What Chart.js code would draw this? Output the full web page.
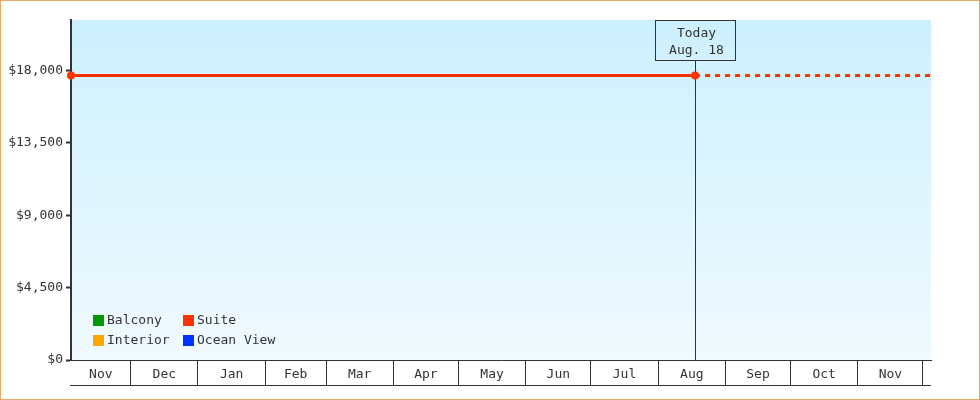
<!DOCTYPE html>
<html>
<head>
<meta charset="utf-8">
<style>
  html, body { margin: 0; padding: 0; background: #fff; }
  #wrap { width: 980px; height: 400px; position: relative; }
</style>
<script src="https://cdn.jsdelivr.net/npm/chart.js@4.4.1/dist/chart.umd.min.js"></script>
</head>
<body>
<div id="wrap"><canvas id="chart"></canvas></div>
<script>
// Days counted from Nov 1 (first month on the axis)
const xMin = 2.5;
const xMax = 398.7;
const monthLabels = ['Nov', 'Dec', 'Jan', 'Feb', 'Mar', 'Apr', 'May', 'Jun', 'Jul', 'Aug', 'Sep', 'Oct', 'Nov'];
const monthStarts = [0, 30, 61, 92, 120, 151, 181, 212, 242, 273, 304, 334, 365, 395];
const todayDay = 290;
const todayLabel = ['Today', 'Aug. 18'];

const yTicks = [0, 4500, 9000, 13500, 18000];
const yMax = 21150;

const seriesNames = ['Balcony', 'Suite', 'Interior', 'Ocean View'];
const seriesColors = ['#009900', '#ff3300', '#ffa500', '#0033ff'];
const suiteDays = [2.5, 290, 398.7];
const suitePrices = [17700, 17700, 17700];

const FONT = '"DejaVu Sans Mono", monospace';
const INK = '#333';

// month cell centres (visible part) and boundaries for the x axis
const labelTicks = monthLabels.map((m, i) => {
    const a = Math.max(monthStarts[i], xMin);
    const b = Math.min(monthStarts[i + 1], xMax);
    return { value: (a + b) / 2, label: m };
});
const boundaryTicks = monthStarts.filter(d => d > xMin && d < xMax).map(d => ({ value: d, label: '' }));
const xTickList = labelTicks.concat(boundaryTicks).sort((a, b) => a.value - b.value);

const suiteData = suiteDays.map((d, i) => ({ x: d, y: suitePrices[i] }));

const datasets = seriesNames.map((name, i) => ({
    label: name,
    data: name === 'Suite' ? suiteData : [],
    borderColor: seriesColors[i],
    backgroundColor: seriesColors[i],
    borderWidth: 3,
    pointRadius: name === 'Suite' ? suiteDays.map(d => d <= todayDay ? 4 : 0) : 0,
    pointBorderWidth: 0,
    clip: false,
    segment: {
        borderDash: ctx => ctx.p0.parsed.x >= todayDay ? [5, 5] : undefined
    }
}));

// chart area background + frame around the page
const backdrop = {
    id: 'backdrop',
    beforeDraw(chart) {
        const { ctx, chartArea: a } = chart;
        const g = ctx.createLinearGradient(0, a.top, 0, a.bottom);
        g.addColorStop(0, '#ccf0fd');
        g.addColorStop(1, '#f0faff');
        ctx.save();
        ctx.fillStyle = g;
        ctx.fillRect(a.left, a.top, a.right - a.left, a.bottom - a.top);
        ctx.restore();
    },
    afterDraw(chart) {
        const { ctx, chartArea: a } = chart;
        ctx.save();
        // bottom line of the month strip
        ctx.strokeStyle = INK;
        ctx.lineWidth = 1;
        ctx.beginPath();
        ctx.moveTo(a.left - 1, a.bottom + 25.5);
        ctx.lineTo(a.right, a.bottom + 25.5);
        ctx.stroke();
        // page frame
        ctx.strokeStyle = '#e9a964';
        ctx.strokeRect(0.5, 0.5, chart.width - 1, chart.height - 1);
        ctx.restore();
    }
};

// vertical "today" marker with its box
const todayMarker = {
    id: 'todayMarker',
    beforeDatasetsDraw(chart) {
        const { ctx, chartArea: a, scales } = chart;
        const x = Math.round(scales.x.getPixelForValue(todayDay)) + 0.5;
        const boxW = 80, boxH = 40;
        const top = a.top + 0.5;
        ctx.save();
        ctx.strokeStyle = INK;
        ctx.lineWidth = 1;
        ctx.strokeRect(x - boxW / 2, top, boxW, boxH);
        ctx.beginPath();
        ctx.moveTo(x, top + boxH);
        ctx.lineTo(x, a.bottom);
        ctx.stroke();
        ctx.fillStyle = INK;
        ctx.font = '13px ' + FONT;
        ctx.textAlign = 'center';
        ctx.textBaseline = 'middle';
        ctx.fillText(todayLabel[0], x + 1, top + 13);
        ctx.fillText(todayLabel[1], x + 1, top + 30);
        ctx.restore();
    }
};

// legend in the lower left corner of the plot, two columns
const cornerLegend = {
    id: 'cornerLegend',
    afterDraw(chart) {
        const { ctx, chartArea: a } = chart;
        const colX = [a.left + 22, a.left + 112];
        const rowY = [a.bottom - 45, a.bottom - 25];
        ctx.save();
        ctx.font = '13px ' + FONT;
        ctx.textBaseline = 'middle';
        chart.data.datasets.forEach((ds, i) => {
            const x = colX[i % 2];
            const y = rowY[Math.floor(i / 2)];
            ctx.fillStyle = ds.borderColor;
            ctx.fillRect(x, y, 11, 11);
            ctx.fillStyle = INK;
            ctx.fillText(ds.label, x + 14, y + 6);
        });
        ctx.restore();
    }
};

Chart.defaults.font.family = FONT;
Chart.defaults.font.size = 13;
Chart.defaults.color = INK;

new Chart(document.getElementById('chart'), {
    type: 'line',
    data: { datasets: datasets },
    options: {
        responsive: true,
        maintainAspectRatio: false,
        animation: false,
        layout: { padding: { top: 20, right: 49, left: 0, bottom: 0 } },
        plugins: {
            legend: { display: false },
            tooltip: { enabled: false }
        },
        scales: {
            x: {
                type: 'linear',
                min: xMin,
                max: xMax,
                afterBuildTicks: scale => { scale.ticks = xTickList.map(t => ({ value: t.value })); },
                afterFit: scale => { scale.height = 40; },
                border: { display: true, color: INK, width: 1 },
                grid: {
                    drawOnChartArea: false,
                    drawTicks: true,
                    tickLength: 25,
                    tickWidth: 1,
                    tickColor: ctx => (ctx.tick && xTickList[ctx.index] && xTickList[ctx.index].label === '') ? INK : 'rgba(0,0,0,0)'
                },
                ticks: {
                    autoSkip: false,
                    maxRotation: 0,
                    padding: -18,
                    callback: (v, i) => xTickList[i].label
                }
            },
            y: {
                min: 0,
                max: yMax,
                afterBuildTicks: scale => { scale.ticks = yTicks.map(v => ({ value: v })); },
                afterFit: scale => { scale.width = 71; },
                border: { display: true, color: INK, width: 2 },
                grid: {
                    drawOnChartArea: false,
                    drawTicks: true,
                    tickLength: 5,
                    tickWidth: 2,
                    tickColor: INK
                },
                ticks: {
                    padding: 3,
                    callback: v => '$' + Number(v).toLocaleString('en-US')
                }
            }
        }
    },
    plugins: [backdrop, todayMarker, cornerLegend]
});
</script>
</body>
</html>
